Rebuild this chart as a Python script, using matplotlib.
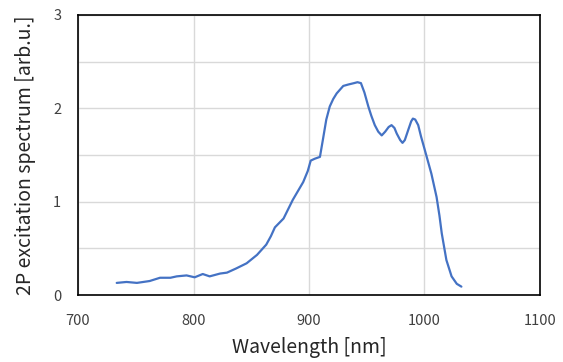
import matplotlib.pyplot as plt

plt.rcParams['font.family'] = ['Noto Sans CJK JP', 'DejaVu Sans']

# wavelength [nm] and 2P excitation values
wavelength = [733.5, 742, 751, 762, 771, 780, 785.5, 794, 801, 808, 814, 823, 829,
              837, 846, 855, 863, 867, 870.5, 878, 886, 895, 899, 901.5, 905, 909.5,
              912, 915, 918, 921, 924, 929.7, 934, 939, 942, 945, 948, 951.4, 954,
              957, 960, 963, 966, 969, 971.5, 974, 976, 979, 981, 983, 986, 988.5, 990,
              992, 994.6, 997, 1000.4, 1006, 1010.5, 1013, 1015, 1019, 1023.5, 1028, 1032]
signal = [0.13, 0.14, 0.13, 0.15, 0.185, 0.185, 0.2, 0.21, 0.19, 0.225, 0.2, 0.23, 0.24,
          0.285, 0.34, 0.43, 0.54, 0.63, 0.725, 0.82, 1.02, 1.21, 1.33, 1.44, 1.46, 1.48,
          1.66, 1.88, 2.02, 2.10, 2.16, 2.24, 2.255, 2.27, 2.28, 2.27, 2.17, 2.02, 1.92,
          1.82, 1.75, 1.71, 1.75, 1.80, 1.82, 1.79, 1.73, 1.66, 1.63, 1.66, 1.77, 1.86, 1.89,
          1.88, 1.82, 1.70, 1.55, 1.30, 1.05, 0.85, 0.66, 0.375, 0.2, 0.12, 0.09]

xticks = [700, 800, 900, 1000, 1100]
yticks = [0, 1, 2, 3]

fig = plt.figure(figsize=(5.63, 3.62), dpi=100)
ax = fig.add_axes([0.1386, 0.185, 0.8204, 0.7736])

ax.plot(wavelength, signal, color='#4472C4', lw=1.6, zorder=3,
        solid_joinstyle='round', solid_capstyle='round')

ax.set_xlim(700, 1100)
ax.set_ylim(0, 3)
ax.set_xticks(xticks)
ax.set_yticks(yticks)
ax.set_yticks([0.5, 1.5, 2.5], minor=True)
ax.grid(True, which='both', color='#d9d9d9', lw=1)
ax.set_axisbelow(True)
ax.tick_params(which='both', length=0, labelsize=10.5, colors='#404040')
ax.tick_params(axis='x', pad=14)
ax.tick_params(axis='y', pad=12)
for s in ax.spines.values():
    s.set_color('black')
    s.set_linewidth(1.2)

ax.set_xlabel('Wavelength [nm]', fontsize=14, color='#262626', labelpad=6)
ax.set_ylabel('2P excitation spectrum [arb.u.]', fontsize=14, color='#262626', labelpad=12)

fig.savefig('out.png', dpi=100)
